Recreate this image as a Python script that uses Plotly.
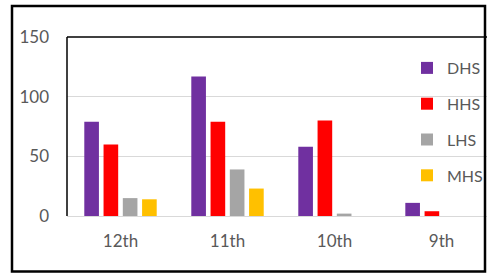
import plotly.graph_objects as go

categories = ["12th", "11th", "10th", "9th"]
dhs = [79, 117, 58, 11]
hhs = [60, 79, 80, 4]
lhs = [15, 39, 2, 0]
mhs = [14, 23, 0, 0]
series_names = ["DHS", "HHS", "LHS", "MHS"]
series_values = [dhs, hhs, lhs, mhs]
colors = ["#7030A0", "#FF0000", "#A5A5A5", "#FFC000"]
y_ticks = [0, 50, 100, 150]

FONT = "Lato, Liberation Sans, sans-serif"
TXT = "#595959"

fig = go.Figure()
for name, vals, col in zip(series_names, series_values, colors):
    fig.add_trace(go.Bar(x=categories, y=vals, name=name, marker_color=col,
                         marker_line_width=0, legendgroup=name))

W, H = 487, 274
L, T, BOT, R = 67, 37, 216, 0
B = H - BOT
pw, ph = W - L - R, BOT - T

def px(x):
    return (x - L) / pw

def py(y):
    return (BOT - y) / ph

fig.update_layout(
    width=W, height=H, autosize=False,
    margin=dict(l=L, r=R, t=T, b=B, pad=0, autoexpand=False),
    paper_bgcolor="white", plot_bgcolor="white",
    barmode="group", bargap=0.28, bargroupgap=0.24,
    font=dict(family=FONT, size=17, color=TXT),
    legend=dict(x=px(407), xanchor="left", y=py(51), yanchor="top",
                font=dict(family=FONT, size=16, color=TXT),
                tracegroupgap=12, bgcolor="rgba(0,0,0,0)"),
    xaxis=dict(range=[-0.5, 3.425], showgrid=False, zeroline=False, showline=False,
               ticks="", tickfont=dict(size=17, color=TXT), ticklabelstandoff=13),
    yaxis=dict(range=[0, 150], tickvals=y_ticks, showgrid=True, gridcolor="#D9D9D9",
               gridwidth=1, zeroline=True, zerolinecolor="#D9D9D9", zerolinewidth=1,
               showline=False, ticks="", tickfont=dict(size=17, color=TXT),
               ticklabelstandoff=17),
    shapes=[
        dict(type="line", xref="paper", yref="paper", x0=0, x1=0, y0=0, y1=1,
             line=dict(color="black", width=1.5), layer="above"),
        dict(type="line", xref="paper", yref="paper", x0=0, x1=1, y0=1, y1=1,
             line=dict(color="black", width=1.5), layer="above"),
        dict(type="rect", xref="paper", yref="paper", x0=px(12), x1=px(485),
             y0=py(271.5), y1=py(6), line=dict(color="black", width=2.5),
             fillcolor="rgba(0,0,0,0)", layer="above"),
    ],
)

fig.write_html(
    "out.html",
    config={"responsive": False, "displayModeBar": False},
    post_script="document.body.style.margin='0';document.body.style.overflow='hidden';",
)
